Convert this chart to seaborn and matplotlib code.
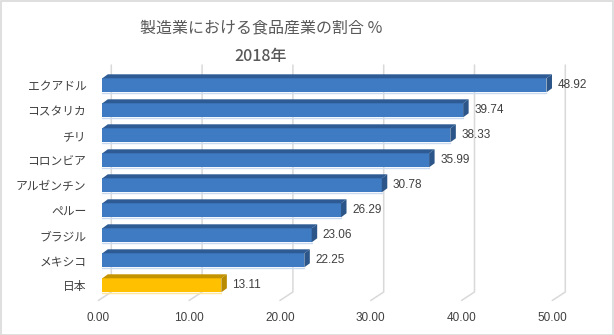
import matplotlib
matplotlib.use("Agg")
import matplotlib.pyplot as plt
import matplotlib.transforms as mtransforms
from matplotlib.patches import Polygon, Rectangle
from matplotlib.lines import Line2D
import seaborn as sns
import pandas as pd

countries = ["エクアドル", "コスタリカ", "チリ", "コロンビア", "アルゼンチン",
             "ペルー", "ブラジル", "メキシコ", "日本"]
shares = [48.92, 39.74, 38.33, 35.99, 30.78, 26.29, 23.06, 22.25, 13.11]
xticks = [0, 10, 20, 30, 40, 50]
title_lines = ["製造業における食品産業の割合 %", "2018年"]

front_cols = ["#3F7BC3"] * 8 + ["#FFC000"]
top_cols = ["#2E5B93"] * 8 + ["#C49300"]
side_cols = ["#2C5689"] * 8 + ["#B88A00"]

sns.set_theme(style="white")
plt.rcParams['font.family'] = ['Noto Sans CJK JP', 'DejaVu Sans']

W, H = 614, 335
fig = plt.figure(figsize=(W / 100, H / 100), dpi=100)
fig.patch.set_facecolor("white")
fig.patches.append(Rectangle((0.5 / W, 0.5 / H), 1 - 1.5 / W, 1 - 1.5 / H,
                             transform=fig.transFigure, fill=False,
                             edgecolor="#D9D9D9", lw=1.2, zorder=0))

left_px, right_px = 102.3, 102.3 + 50 * 9.08
top_px, bot_px = 72.8, 297.8
ax = fig.add_axes([left_px / W, 1 - bot_px / H, (right_px - left_px) / W,
                   (bot_px - top_px) / H])
ax.set_zorder(2)

df = pd.DataFrame({"country": countries, "share": shares})
sns.barplot(data=df, x="share", y="country", hue="country", palette=front_cols,
            legend=False, width=0.56, ax=ax, orient="h", saturation=1,
            edgecolor="none", zorder=3)
ax.set_xlim(0, 50)
ax.set_ylim(len(countries) - 0.5, -0.5)
for s in ax.spines.values():
    s.set_visible(False)
ax.set_xlabel("")
ax.set_ylabel("")
ax.patch.set_alpha(0)

def px2fig(x, y):
    return (x / W, 1 - y / H)

# back-wall gridlines and floor diagonals (behind the axes)
for v in xticks:
    xd = ax.transData.transform((v, 0))[0]
    x_back = xd + 9
    x_front = xd - 4
    pts = [px2fig(x_back, 65), px2fig(x_back, 292), px2fig(x_front, 300.5)]
    fig.lines.append(Line2D([p[0] for p in pts], [p[1] for p in pts],
                            transform=fig.transFigure, color="#D9D9D9", lw=1.1,
                            zorder=1))

# 3D faces of bars
dx, dy = 5.5, 4
for i, p in enumerate(ax.patches):
    (x0, y0), (x1, y1) = ax.transData.transform(
        [(p.get_x(), p.get_y()), (p.get_x() + p.get_width(), p.get_y() + p.get_height())])
    yt, yb = max(y0, y1), min(y0, y1)
    top = Polygon([(x0, yt), (x0 + dx, yt + dy), (x1 + dx, yt + dy), (x1, yt)],
                  closed=True, transform=None, facecolor=top_cols[i],
                  edgecolor="none", zorder=4)
    side = Polygon([(x1, yt), (x1 + dx, yt + dy), (x1 + dx, yb + dy), (x1, yb)],
                   closed=True, transform=None, facecolor=side_cols[i],
                   edgecolor="none", zorder=4)
    fig.patches.append(top)
    fig.patches.append(side)
    fig.lines.append(Line2D([x0, x1], [yb - 0.5, yb - 0.5], transform=None,
                            color="#C9DAF0" if i < 8 else "#FFE699", lw=1, zorder=3))

# value labels
for i, v in enumerate(shares):
    ax.annotate(f"{v:.2f}", xy=(v, i), xytext=(8, 0.5), textcoords="offset points",
                ha="left", va="center", fontsize=8.5, color="#404040",
                family=["Liberation Sans", "DejaVu Sans"])

# ticks
ax.set_xticks(xticks)
ax.set_xticklabels([f"{t:.2f}" for t in xticks], fontsize=8.5, color="#404040",
                   family=["Liberation Sans", "DejaVu Sans"])
ax.tick_params(axis="x", length=0, pad=10)
off = mtransforms.ScaledTranslation(-4 / 100, 0, fig.dpi_scale_trans)
for lab in ax.get_xticklabels():
    lab.set_transform(lab.get_transform() + off)
ax.tick_params(axis="y", length=0, pad=11.5, labelsize=8.5, labelcolor="#404040")

# title
fig.text(261 / W, 1 - 28 / H, title_lines[0], ha="center", va="center",
         fontsize=11.5, color="#595959")
fig.text(261 / W, 1 - 56 / H, title_lines[1], ha="center", va="center",
         fontsize=11.5, color="#595959", fontweight="medium")

fig.savefig("out.png", dpi=100, facecolor="white")
